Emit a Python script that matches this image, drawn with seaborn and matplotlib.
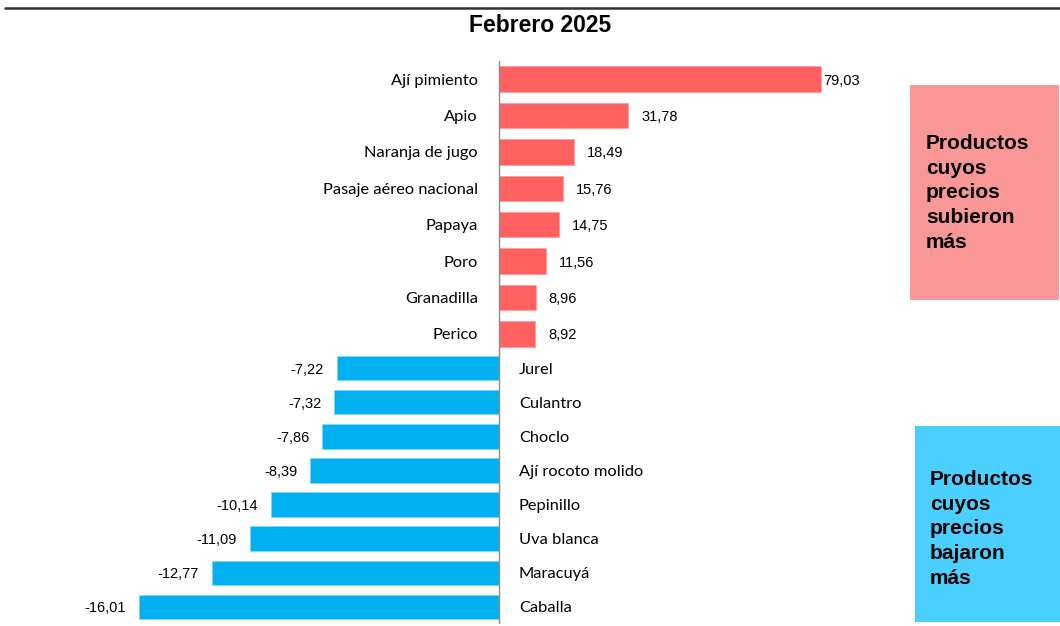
import matplotlib
matplotlib.use("Agg")
import matplotlib.pyplot as plt
from matplotlib.patches import Rectangle
from matplotlib.lines import Line2D
import seaborn as sns
import pandas as pd

title = "Febrero 2025"
up_cats = ["Ají pimiento", "Apio", "Naranja de jugo", "Pasaje aéreo nacional",
           "Papaya", "Poro", "Granadilla", "Perico"]
up_vals = [79.03, 31.78, 18.49, 15.76, 14.75, 11.56, 8.96, 8.92]
down_cats = ["Jurel", "Culantro", "Choclo", "Ají rocoto molido",
             "Pepinillo", "Uva blanca", "Maracuyá", "Caballa"]
down_vals = [-7.22, -7.32, -7.86, -8.39, -10.14, -11.09, -12.77, -16.01]
up_box_text = "Productos\ncuyos\nprecios\nsubieron\nmás"
down_box_text = "Productos\ncuyos\nprecios\nbajaron\nmás"

RED = "#FF6161"
BLUE = "#00B0F0"
RED_BOX = "#F99797"
BLUE_BOX = "#4BCFFF"
CAT_FONT = ["Lato", "DejaVu Sans"]
VAL_FONT = ["Liberation Sans", "DejaVu Sans"]

sns.set_theme(style="white")
W, H = 1060, 626
fig = plt.figure(figsize=(W / 100, H / 100), dpi=100)

def fx(px):
    return px / W

def fy(py):
    return 1 - py / H

x0 = 499
left_px, right_px = 100, 880
ax_top = fig.add_axes([fx(left_px), fy(352), fx(right_px - left_px), (352 - 61) / H])
ax_bot = fig.add_axes([fx(left_px), fy(624), fx(right_px - left_px), (624 - 351) / H])

df_up = pd.DataFrame({"cat": up_cats, "val": up_vals})
df_dn = pd.DataFrame({"cat": down_cats, "val": down_vals})

sns.barplot(data=df_up, x="val", y="cat", orient="h", color=RED, saturation=1,
            width=0.7, ax=ax_top, edgecolor="#FF9E9E", linewidth=0.6)
sns.barplot(data=df_dn, x="val", y="cat", orient="h", color=BLUE, saturation=1,
            width=0.72, ax=ax_bot, edgecolor="#7FD6F7", linewidth=0.6)

s_top = 322 / 79.03
s_bot = 360 / 16.01
ax_top.set_xlim(-(x0 - left_px) / s_top, (right_px - x0) / s_top)
ax_bot.set_xlim(-(x0 - left_px) / s_bot, (right_px - x0) / s_bot)
ax_top.set_ylim(len(up_cats) - 0.5, -0.5)
ax_bot.set_ylim(len(down_cats) - 0.5, -0.5)

px2pt = 0.72
for ax in (ax_top, ax_bot):
    ax.axis("off")
    ax.axvline(0, color="#8C8C8C", lw=1.0, zorder=3)

def fmt(v):
    return f"{v:.2f}".replace(".", ",")

VA = "center_baseline"
vmax = max(up_vals)
for i, (c, v) in enumerate(zip(up_cats, up_vals)):
    ax_top.annotate(c, xy=(0, i), xytext=(-21 * px2pt, 0), textcoords="offset points",
                    ha="right", va=VA, fontsize=11.8, family=CAT_FONT, color="#000000")
    off = 2 if v == vmax else 13
    ax_top.annotate(fmt(v), xy=(v, i), xytext=(off * px2pt, 0), textcoords="offset points",
                    ha="left", va=VA, fontsize=10.5, family=VAL_FONT, color="#000000")

for i, (c, v) in enumerate(zip(down_cats, down_vals)):
    ax_bot.annotate(c, xy=(0, i), xytext=(20 * px2pt, 0), textcoords="offset points",
                    ha="left", va=VA, fontsize=11.8, family=CAT_FONT, color="#000000")
    ax_bot.annotate(fmt(v), xy=(v, i), xytext=(-13 * px2pt, 0), textcoords="offset points",
                    ha="right", va=VA, fontsize=10.5, family=VAL_FONT, color="#000000")

# top rule
fig.add_artist(Line2D([fx(5), fx(1060)], [fy(8), fy(8)], color="#333333", lw=1.8))
# title
fig.text(fx(540), fy(25), title, ha="center", va="center", fontsize=16.5, fontweight="bold",
         family=["Liberation Sans Narrow", "Liberation Sans", "DejaVu Sans"], color="#000000")

# boxes
fig.add_artist(Rectangle((fx(910), fy(300)), fx(1059 - 910), (300 - 85) / H,
                         facecolor=RED_BOX, edgecolor="none", transform=fig.transFigure))
fig.text(fx(926), fy(193), up_box_text, ha="left", va="center", fontsize=15,
         fontweight="bold", family=VAL_FONT, linespacing=1.38, color="#000000")
fig.add_artist(Rectangle((fx(915), fy(622)), fx(1060 - 915), (622 - 426) / H,
                         facecolor=BLUE_BOX, edgecolor="none", transform=fig.transFigure))
fig.text(fx(930), fy(529), down_box_text, ha="left", va="center", fontsize=15,
         fontweight="bold", family=VAL_FONT, linespacing=1.38, color="#000000")

fig.savefig("out.png", dpi=100)
